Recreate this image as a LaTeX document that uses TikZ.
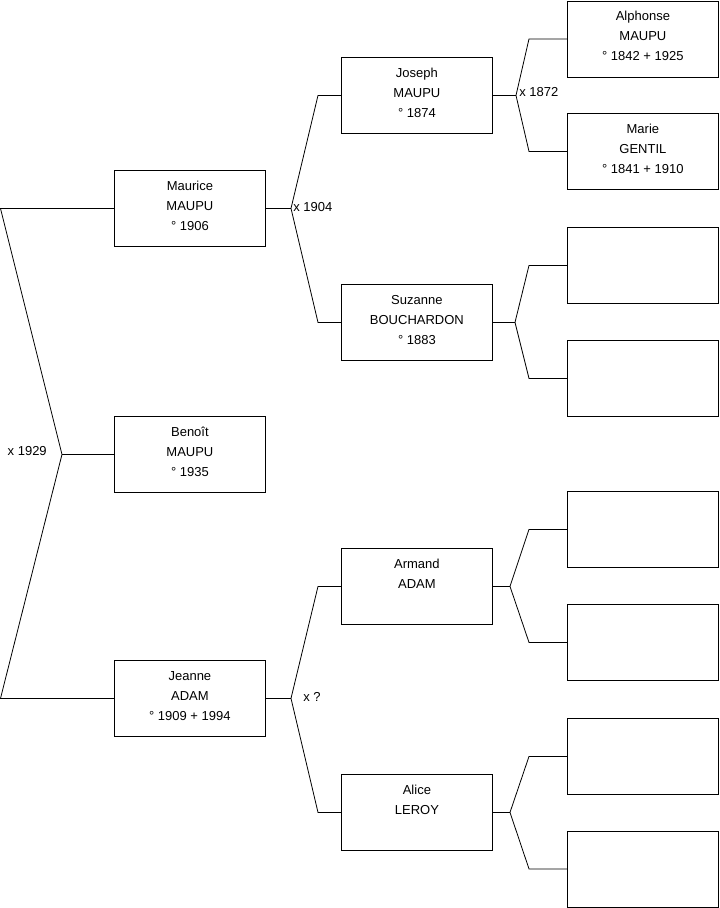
\documentclass[tikz,border=0pt]{standalone}
\usepackage{fontspec}
\setmainfont{Liberation Sans}
\tikzset{every node/.style={font=\fontsize{9.75}{15}\selectfont},line cap=round,line join=round}
\tikzset{person/.style={draw,line width=0.6pt,anchor=north west,inner sep=0pt,minimum width=113.25pt,minimum height=57pt},
  link/.style={line width=0.6pt},
  marriage/.style={anchor=west,inner sep=0pt}}
\newcommand{\who}[1]{\parbox[c][57pt][t]{113pt}{\centering\rule{0pt}{15pt}#1}}

\begin{document}
\begin{tikzpicture}[x=0.75pt,y=-0.75pt]
  \path[use as bounding box] (0,0) rectangle (719,908);
  % generation 1
  \node[person] (benoit) at (114,416) {\who{Benoît\\MAUPU\\° 1935}};
  % generation 2
  \node[person] (maurice) at (114,170) {\who{Maurice\\MAUPU\\° 1906}};
  \node[person] (jeanne) at (114,660) {\who{Jeanne\\ADAM\\° 1909 + 1994}};
  % generation 3
  \node[person] (joseph) at (341,57) {\who{Joseph\\MAUPU\\° 1874}};
  \node[person] (suzanne) at (341,284) {\who{Suzanne\\BOUCHARDON\\° 1883}};
  \node[person] (armand) at (341,548) {\who{Armand\\ADAM}};
  \node[person] (alice) at (341,774) {\who{Alice\\LEROY}};
  % generation 4
  \node[person] (alphonse) at (567,0.5) {\who{Alphonse\\MAUPU\\° 1842 + 1925}};
  \node[person] (marie) at (567,113) {\who{Marie\\GENTIL\\° 1841 + 1910}};
  \node[person] (e1) at (567,227) {};
  \node[person] (e2) at (567,340) {};
  \node[person] (e3) at (567,491) {};
  \node[person] (e4) at (567,604) {};
  \node[person] (e5) at (567,718) {};
  \node[person] (e6) at (567,830.5) {};

  % forks
  \coordinate (f0) at (62,0 |- benoit.west);
  \draw[link] (benoit.west) -- (f0);
  \draw[link] (maurice.west) -- (0.5,0 |- maurice.west) -- (f0)
    -- (0.5,0 |- jeanne.west) -- (jeanne.west);
  \node[anchor=east,inner sep=0pt] (m0) at (47,451) {x 1929};

  \coordinate (f1) at (291,0 |- maurice.east);
  \draw[link] (maurice.east) -- (f1);
  \draw[link] (joseph.west) -- (318,0 |- joseph.west) -- (f1)
    -- (318,0 |- suzanne.west) -- (suzanne.west);
  \node[marriage] (m1) at (293,207) {x 1904};

  \coordinate (f2) at (291,0 |- jeanne.east);
  \draw[link] (jeanne.east) -- (f2);
  \draw[link] (armand.west) -- (318,0 |- armand.west) -- (f2)
    -- (318,0 |- alice.west) -- (alice.west);
  \node[marriage] (m2) at (303,697) {x ?};

  \coordinate (f3) at (516,0 |- joseph.east);
  \draw[link] (joseph.east) -- (f3);
  \draw[link] (alphonse.west) -- (529,0 |- alphonse.west) -- (f3)
    -- (529,0 |- marie.west) -- (marie.west);
  \node[marriage] (m3) at (519,92) {x 1872};

  \coordinate (f4) at (515,0 |- suzanne.east);
  \draw[link] (suzanne.east) -- (f4);
  \draw[link] (e1.west) -- (529,0 |- e1.west) -- (f4)
    -- (529,0 |- e2.west) -- (e2.west);

  \coordinate (f5) at (510,0 |- armand.east);
  \draw[link] (armand.east) -- (f5);
  \draw[link] (e3.west) -- (529,0 |- e3.west) -- (f5)
    -- (529,0 |- e4.west) -- (e4.west);

  \coordinate (f6) at (510,0 |- alice.east);
  \draw[link] (alice.east) -- (f6);
  \draw[link] (e5.west) -- (529,0 |- e5.west) -- (f6)
    -- (529,0 |- e6.west) -- (e6.west);
\end{tikzpicture}
\end{document}
